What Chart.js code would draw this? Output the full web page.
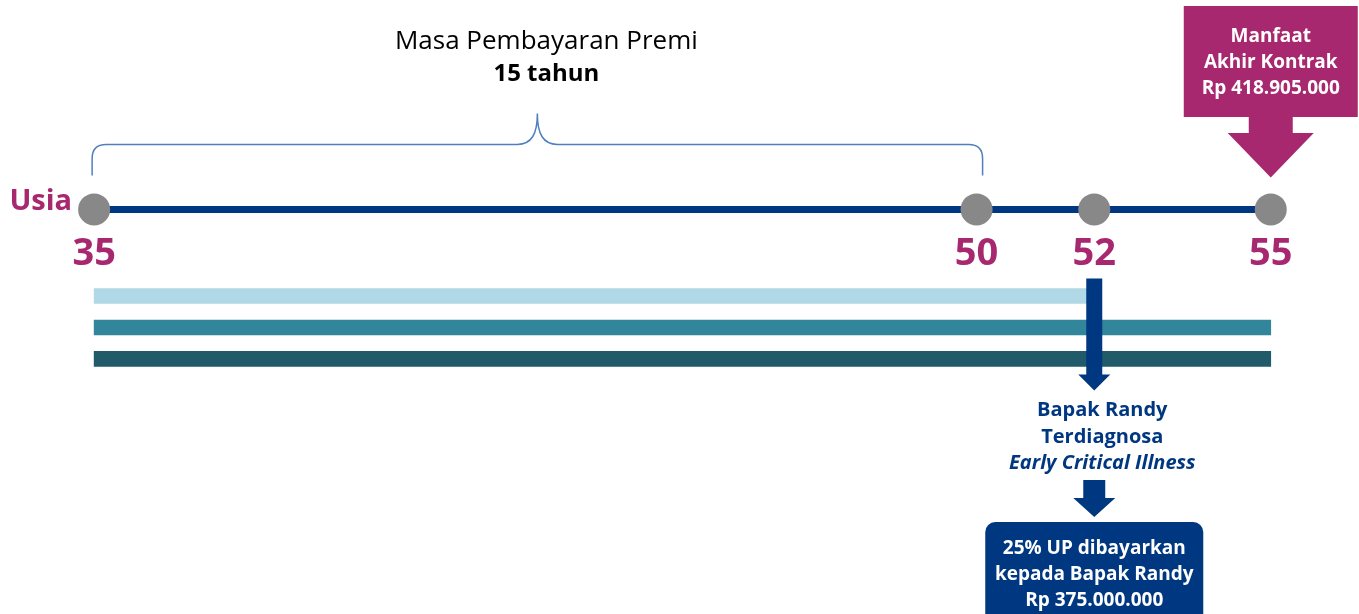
<!DOCTYPE html>
<html>
<head>
<meta charset="utf-8">
<title>Timeline Manfaat</title>
<script src="https://cdn.jsdelivr.net/npm/chart.js@4.4.1/dist/chart.umd.min.js"></script>
<style>
    html, body { margin: 0; padding: 0; background: #ffffff; }
    #wrap { width: 1359px; height: 614px; }
</style>
</head>
<body>
<div id="wrap"><canvas id="timeline-chart" width="1359" height="614"></canvas></div>
<script>
// Timeline milestones (age)
const ages = [35, 50, 52, 55];
const ageLabels = ['35', '50', '52', '55'];
const axisTitle = 'Usia';

// Coverage bars (start / end age)
const coverageStart = [35, 35, 35];
const coverageEnd = [52, 55, 55];
const coverageColors = ['#b1d8e6', '#32869c', '#215a69'];

// Premium payment period
const premiStart = 35;
const premiEnd = 50;
const premiTitle = 'Masa Pembayaran Premi';
const premiYears = '15 tahun';

// Events
const claimAge = 52;
const claimText = ['Bapak Randy', 'Terdiagnosa', 'Early Critical Illness'];
const claimBenefit = ['25% UP dibayarkan', 'kepada Bapak Randy', 'Rp 375.000.000'];
const maturityAge = 55;
const maturityText = ['Manfaat', 'Akhir Kontrak', 'Rp 418.905.000'];

// Layout (rows on the hidden y axis)
const TIMELINE_ROW = 0.25;
const BAR_ROWS = [3, 4, 5];

const BLUE = '#003781';
const MAGENTA = '#a8286f';
const FONT = "'Open Sans', Lato, sans-serif";

function drawDownArrow(ctx, cx, top, shaftW, shaftBottom, headW, tip, color) {
    ctx.fillStyle = color;
    ctx.beginPath();
    ctx.moveTo(cx - shaftW / 2, top);
    ctx.lineTo(cx + shaftW / 2, top);
    ctx.lineTo(cx + shaftW / 2, shaftBottom);
    ctx.lineTo(cx + headW / 2, shaftBottom);
    ctx.lineTo(cx, tip);
    ctx.lineTo(cx - headW / 2, shaftBottom);
    ctx.lineTo(cx - shaftW / 2, shaftBottom);
    ctx.closePath();
    ctx.fill();
}

function textLines(ctx, lines, x, y0, step) {
    lines.forEach((t, i) => ctx.fillText(t, x, y0 + i * step));
}

// Annotations: labels, brace, callouts
const annotationPlugin = {
    id: 'timelineAnnotations',
    afterDatasetsDraw(chart) {
        const ctx = chart.ctx;
        const xs = chart.scales.x;
        const yLine = chart.scales.y.getPixelForValue(TIMELINE_ROW);
        ctx.save();

        // "Usia" title
        ctx.fillStyle = MAGENTA;
        ctx.font = `bold 29px ${FONT}`;
        ctx.textAlign = 'right';
        ctx.textBaseline = 'middle';
        ctx.fillText(axisTitle, xs.getPixelForValue(ages[0]) - 22, yLine - 8);

        // Age labels
        ctx.font = `bold 38px ${FONT}`;
        ctx.textAlign = 'center';
        ctx.textBaseline = 'alphabetic';
        ages.forEach((a, i) => {
            ctx.fillText(ageLabels[i], xs.getPixelForValue(a), yLine + 56);
        });

        // Brace over premium period
        const bx0 = xs.getPixelForValue(premiStart) - 2;
        const bx1 = xs.getPixelForValue(premiEnd) + 6;
        const bm = (bx0 + bx1) / 2;
        const yb = yLine - 34, yh = yLine - 65, yp = yLine - 96;
        ctx.strokeStyle = '#4f7fbf';
        ctx.lineWidth = 1.5;
        ctx.beginPath();
        ctx.moveTo(bx0, yb);
        ctx.lineTo(bx0, yh + 14);
        ctx.quadraticCurveTo(bx0, yh, bx0 + 14, yh);
        ctx.lineTo(bm - 20, yh);
        ctx.bezierCurveTo(bm - 6, yh, bm, yh - 10, bm, yp);
        ctx.bezierCurveTo(bm, yh - 10, bm + 6, yh, bm + 20, yh);
        ctx.lineTo(bx1 - 14, yh);
        ctx.quadraticCurveTo(bx1, yh, bx1, yh + 14);
        ctx.lineTo(bx1, yb);
        ctx.stroke();

        ctx.fillStyle = '#000000';
        ctx.font = `26px ${FONT}`;
        ctx.fillText(premiTitle, bm + 9, 49);
        ctx.font = `bold 24px ${FONT}`;
        ctx.fillText(premiYears, bm + 9, 81);

        // Maturity callout
        const mx = xs.getPixelForValue(maturityAge);
        ctx.fillStyle = MAGENTA;
        ctx.fillRect(mx - 87, 6, 174, 111);
        drawDownArrow(ctx, mx, 116, 44, 133, 86, yLine - 32, MAGENTA);
        ctx.fillStyle = '#ffffff';
        ctx.font = `bold 19px ${FONT}`;
        textLines(ctx, maturityText, mx, 42, 26);

        // Claim arrow and text
        const cx = xs.getPixelForValue(claimAge);
        drawDownArrow(ctx, cx, yLine + 69, 16, yLine + 165, 32, yLine + 181, BLUE);
        ctx.fillStyle = BLUE;
        ctx.font = `bold 20px ${FONT}`;
        ctx.fillText(claimText[0], cx + 8, 416);
        ctx.fillText(claimText[1], cx + 8, 443);
        ctx.font = `italic bold 20px ${FONT}`;
        ctx.fillText(claimText[2], cx + 8, 469);

        drawDownArrow(ctx, cx, 480, 22, 498, 42, 517, BLUE);

        // Benefit box
        ctx.fillStyle = BLUE;
        ctx.beginPath();
        ctx.roundRect(cx - 109, 522, 218, 110, 10);
        ctx.fill();
        ctx.fillStyle = '#ffffff';
        ctx.font = `bold 19px ${FONT}`;
        textLines(ctx, claimBenefit, cx, 554, 26);

        ctx.restore();
    }
};

const ctx = document.getElementById('timeline-chart');

new Chart(ctx, {
    type: 'line',
    data: {
        datasets: [
            {
                label: 'Usia',
                data: ages.map(a => ({ x: a, y: TIMELINE_ROW })),
                borderColor: BLUE,
                borderWidth: 7,
                pointRadius: 16,
                pointHoverRadius: 16,
                pointBackgroundColor: '#888888',
                pointBorderWidth: 0,
                tension: 0,
                clip: false,
                order: 1
            },
            {
                type: 'bar',
                label: 'Coverage',
                indexAxis: 'y',
                data: coverageStart.map((s, i) => ({ x: [s, coverageEnd[i]], y: BAR_ROWS[i] })),
                backgroundColor: coverageColors,
                borderWidth: 0,
                barThickness: 15,
                clip: false,
                order: 2
            }
        ]
    },
    options: {
        responsive: false,
        animation: false,
        events: [],
        layout: { autoPadding: false, padding: 0 },
        plugins: {
            legend: { display: false },
            tooltip: { enabled: false }
        },
        scales: {
            x: {
                type: 'linear',
                min: 33.4,
                max: 56.5,
                offset: false,
                display: false
            },
            y: {
                type: 'linear',
                min: -6.4,
                max: 13.1,
                reverse: true,
                offset: false,
                grid: { offset: false },
                display: false
            }
        }
    },
    plugins: [annotationPlugin]
});
</script>
</body>
</html>
